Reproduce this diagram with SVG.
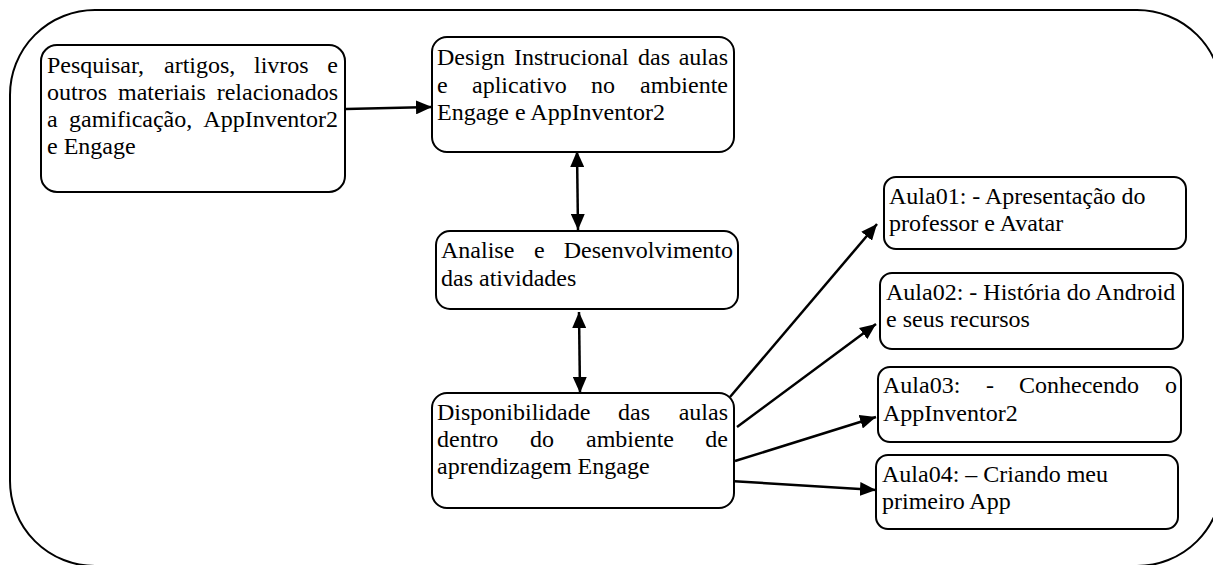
<svg xmlns="http://www.w3.org/2000/svg" width="1213" height="565" viewBox="0 0 1213 565">
<style>
.box{fill:#fff;stroke:#000;stroke-width:2}
.frame{fill:none;stroke:#000;stroke-width:2}
.t{font-family:"Liberation Serif","Times New Roman",serif;font-size:24px;fill:#000}
.e{text-anchor:end}
.c{stroke:#000;stroke-width:2.5;fill:none}
</style>
<defs>
<marker id="ah" viewBox="0 0 16 14" refX="16" refY="7" markerWidth="16" markerHeight="14" markerUnits="userSpaceOnUse" orient="auto-start-reverse">
<path d="M0,0 L16,7 L0,14 Z" fill="#000"/>
</marker>
</defs>
<rect id="frame" class="frame" x="10" y="10" width="1212" height="556" rx="85" ry="85"/>
<g id="connectors">
<line class="c" x1="346" y1="109" x2="432" y2="107" marker-end="url(#ah)"/>
<line class="c" x1="577" y1="151" x2="578" y2="230" marker-start="url(#ah)" marker-end="url(#ah)"/>
<line class="c" x1="579" y1="312" x2="580" y2="393" marker-start="url(#ah)" marker-end="url(#ah)"/>
<line class="c" x1="730" y1="397" x2="877" y2="224" marker-end="url(#ah)"/>
<line class="c" x1="737" y1="427" x2="876" y2="324" marker-end="url(#ah)"/>
<line class="c" x1="735" y1="461" x2="876" y2="417" marker-end="url(#ah)"/>
<line class="c" x1="730" y1="481" x2="876" y2="490" marker-end="url(#ah)"/>
</g>
<g id="n1">
<rect class="box" x="41" y="45" width="304" height="147" rx="16"/>
<text class="t" y="73"><tspan x="47">Pesquisar,</tspan><tspan x="164">artigos,</tspan><tspan x="254">livros</tspan></text>
<text class="t e" x="338" y="73">e</text>
<text class="t" y="100"><tspan x="47">outros</tspan><tspan x="118">materiais</tspan></text>
<text class="t e" x="338" y="100">relacionados</text>
<text class="t" y="127"><tspan x="47">a</tspan><tspan x="69">gamificação,</tspan></text>
<text class="t e" x="338" y="127">AppInventor2</text>
<text class="t" x="47" y="154">e Engage</text>
</g>
<g id="n2">
<rect class="box" x="432" y="37" width="302" height="115" rx="15"/>
<text class="t" y="65"><tspan x="437">Design</tspan><tspan x="514">Instrucional</tspan><tspan x="638">das</tspan></text>
<text class="t e" x="728" y="65">aulas</text>
<text class="t" y="93"><tspan x="437">e</tspan><tspan x="472">aplicativo</tspan><tspan x="591">no</tspan></text>
<text class="t e" x="728" y="93">ambiente</text>
<text class="t" x="437" y="120">Engage e AppInventor2</text>
</g>
<g id="n3">
<rect class="box" x="436" y="231" width="302" height="78" rx="14"/>
<text class="t" y="258"><tspan x="441">Analise</tspan><tspan x="534">e</tspan></text>
<text class="t e" x="733" y="258">Desenvolvimento</text>
<text class="t" x="441" y="286">das atividades</text>
</g>
<g id="n4">
<rect class="box" x="432" y="393" width="302" height="115" rx="15"/>
<text class="t" y="420"><tspan x="437">Disponibilidade</tspan><tspan x="618">das</tspan></text>
<text class="t e" x="728" y="420">aulas</text>
<text class="t" y="447"><tspan x="437">dentro</tspan><tspan x="530">do</tspan><tspan x="586">ambiente</tspan></text>
<text class="t e" x="728" y="447">de</text>
<text class="t" x="437" y="474">aprendizagem Engage</text>
</g>
<g id="a1">
<rect class="box" x="884" y="177" width="302" height="72" rx="12"/>
<text class="t" x="889" y="204">Aula01: - Apresentação do</text>
<text class="t" x="889" y="231">professor e Avatar</text>
</g>
<g id="a2">
<rect class="box" x="880" y="273" width="303" height="76" rx="12"/>
<text class="t" x="886" y="300">Aula02: - História do Android</text>
<text class="t" x="886" y="327">e seus recursos</text>
</g>
<g id="a3">
<rect class="box" x="878" y="367" width="303" height="75" rx="12"/>
<text class="t" y="393"><tspan x="883">Aula03:</tspan><tspan x="986">-</tspan><tspan x="1019">Conhecendo</tspan></text>
<text class="t e" x="1177" y="393">o</text>
<text class="t" x="883" y="421">AppInventor2</text>
</g>
<g id="a4">
<rect class="box" x="876" y="455" width="302" height="74" rx="12"/>
<text class="t" x="882" y="482">Aula04: – Criando meu</text>
<text class="t" x="882" y="509">primeiro App</text>
</g>
</svg>
